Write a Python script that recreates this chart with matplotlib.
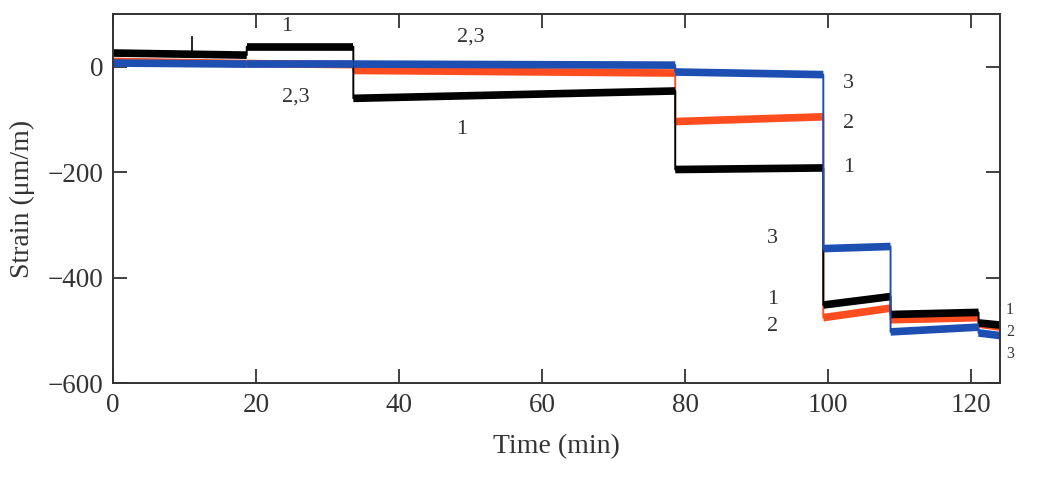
import matplotlib.pyplot as plt

plt.rcParams['font.family'] = ['Liberation Serif', 'DejaVu Serif']

# Step times (min) where the strain plateaus change
t_steps = [0, 18.7, 33.6, 78.6, 99.3, 108.7, 121.0, 124.0]

# Plateau values: value at start / end of each segment
s1_start = [26, 38, -60, -195, -452, -470, -486]
s1_end = [22, 38, -46, -192, -436, -466, -490]
s2_start = [10, 6, -7, -104, -476, -480, -488]
s2_end = [6, 4, -12, -95, -458, -476, -494]
s3_start = [7, 5, 5, -10, -345, -503, -505]
s3_end = [5, 5, 3, -15, -341, -494, -510]

# Short spike in series 1
spike_t = 11.0
spike_v = [22, 57]

series = [
    (s2_start, s2_end, '#ff4d1f'),
    (s1_start, s1_end, '#000000'),
    (s3_start, s3_end, '#1d4fb3'),
]

# Curve labels
labels = ['1', '2,3', '2,3', '1', '3', '2', '1', '3', '1', '2']
label_t = [24.3, 50.0, 25.5, 48.8, 102.8, 102.8, 102.8, 92.2, 92.2, 92.2]
label_v = [76, 57, -57, -119, -32, -108, -192, -326, -442, -493]
end_labels = ['1', '2', '3']
end_v = [-462, -503, -545]

fig = plt.figure(figsize=(10.48, 4.83), dpi=100)
ax = fig.add_axes([0.1078, 0.207, 0.8464, 0.764])

for st, en, col in series:
    xs, ys = [], []
    for i in range(len(st)):
        xs += [t_steps[i], t_steps[i + 1]]
        ys += [st[i], en[i]]
        # thick band for the noisy plateau
        ax.plot([t_steps[i], t_steps[i + 1]], [st[i], en[i]], color=col,
                lw=5.5, solid_capstyle='butt')
    ax.plot(xs, ys, color=col, lw=1.4)

ax.plot([spike_t, spike_t], spike_v, color='#000000', lw=1.2)

for txt, tx, vy in zip(labels, label_t, label_v):
    ax.text(tx, vy, txt, fontsize=16, ha='center', va='center', color='#333333')
for txt, vy in zip(end_labels, end_v):
    ax.text(125.4, vy, txt, fontsize=11.5, ha='center', va='center',
            color='#333333', clip_on=False)

ax.set_xlim(0, 124)
ax.set_ylim(-600, 100)
ax.set_xticks(range(0, 121, 20))
ax.set_yticks([0, -200, -400, -600])
ax.tick_params(direction='in', length=10, width=1.3, top=True, right=True,
               labelsize=19.5, colors='#333333', pad=7)
for sp in ax.spines.values():
    sp.set_linewidth(1.4)
    sp.set_color('#333333')

ax.set_xlabel('Time (min)', fontsize=20, color='#333333', labelpad=12)
ax.set_ylabel('Strain (μm/m)', fontsize=20, color='#333333', labelpad=9)

plt.savefig('out.png', dpi=100)
